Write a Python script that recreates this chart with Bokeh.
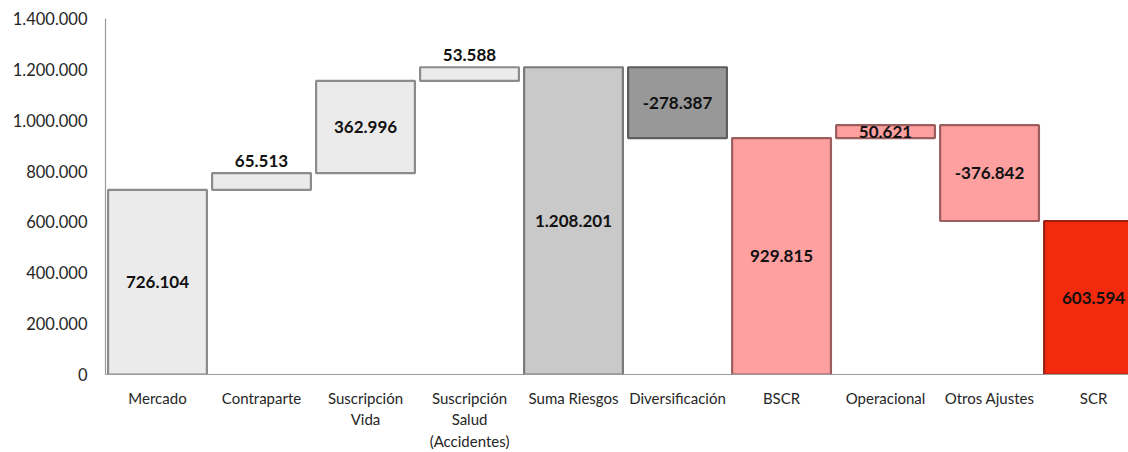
from bokeh.plotting import figure
from bokeh.models import Range1d, FixedTicker, ColumnDataSource, LabelSet
from bokeh.embed import file_html
from bokeh.resources import INLINE
from bokeh.core.properties import value

categories = ["Mercado", "Contraparte", "Suscripción\nVida", "Suscripción\nSalud\n(Accidentes)",
              "Suma Riesgos", "Diversificación", "BSCR", "Operacional", "Otros Ajustes", "SCR"]
amounts = [726104, 65513, 362996, 53588, 1208201, -278387, 929815, 50621, -376842, 603594]
kinds = ["step", "step", "step", "step", "total", "step", "total", "step", "step", "total"]
label_modes = ["center", "above", "center", "above", "center", "center", "center", "center", "center", "center"]
fill_colors = ["#EBEBEB", "#EBEBEB", "#EBEBEB", "#EBEBEB", "#C9C9C9", "#989898",
               "#FFA0A0", "#FFA0A0", "#FFA0A0", "#F42A0E"]
edge_colors = ["#8C8C8C", "#8C8C8C", "#8C8C8C", "#8C8C8C", "#7A7A7A", "#5E5E5E",
               "#9A5E5E", "#9A5E5E", "#9A5E5E", "#9A2010"]
y_ticks = [0, 200000, 400000, 600000, 800000, 1000000, 1200000, 1400000]
y_tick_labels = ["0", "200.000", "400.000", "600.000", "800.000", "1.000.000", "1.200.000", "1.400.000"]

idx = list(range(len(categories)))
bottoms, tops = [], []
running = 0
for a, k in zip(amounts, kinds):
    if k == "total":
        b, t = 0, a
        running = a
    else:
        b, t = min(running, running + a), max(running, running + a)
        running += a
    bottoms.append(b)
    tops.append(t)

bar_w = 0.95
src = ColumnDataSource(dict(
    left=[i - bar_w / 2 for i in idx], right=[i + bar_w / 2 for i in idx],
    bottom=bottoms, top=tops, fill=fill_colors, edge=edge_colors,
))

p = figure(width=1128, height=452, output_backend="svg", toolbar_location=None,
           x_range=Range1d(-0.5, 9.336), y_range=Range1d(0, 1400000),
           min_border_left=105, min_border_top=18, min_border_right=0, min_border_bottom=76)
p.outline_line_color = None
p.grid.grid_line_color = None
p.background_fill_color = "white"

p.quad(left="left", right="right", bottom="bottom", top="top", source=src,
       fill_color="fill", line_color="edge", line_width=2.2)

fmt = lambda v: f"{v:,}".replace(",", ".")
lab_c = dict(x=[], y=[], t=[])
lab_a = dict(x=[], y=[], t=[])
for i, a, b, t, m in zip(idx, amounts, bottoms, tops, label_modes):
    if m == "above":
        lab_a["x"].append(i); lab_a["y"].append(t); lab_a["t"].append(fmt(a))
    else:
        lab_c["x"].append(i); lab_c["y"].append((b + t) / 2); lab_c["t"].append(fmt(a))

common = dict(text_font=value("Lato"), text_font_style="bold", text_font_size="17px",
              text_color="#111111", text_align="center")
p.add_layout(LabelSet(x="x", y="y", text="t", source=ColumnDataSource(lab_c),
                      text_baseline="middle", **common))
p.add_layout(LabelSet(x="x", y="y", text="t", source=ColumnDataSource(lab_a),
                      text_baseline="bottom", y_offset=6, **common))

p.xaxis.ticker = FixedTicker(ticks=idx)
p.xaxis.major_label_overrides = {i: c for i, c in zip(idx, categories)}
p.yaxis.ticker = FixedTicker(ticks=y_ticks)
p.yaxis.major_label_overrides = {v: l for v, l in zip(y_ticks, y_tick_labels)}
for ax in (p.xaxis, p.yaxis):
    ax.axis_line_color = "#9A9A9A"
    ax.axis_line_width = 1.2
    ax.major_tick_line_color = None
    ax.minor_tick_line_color = None
    ax.major_label_text_font = "Lato"
    ax.major_label_text_color = "#262626"
p.yaxis.major_label_text_font_size = "16.5px"
p.yaxis.major_label_standoff = 12
p.xaxis.major_label_text_font_size = "15px"
p.xaxis.major_label_standoff = 8

open("out.html", "w").write(file_html(p, INLINE))
